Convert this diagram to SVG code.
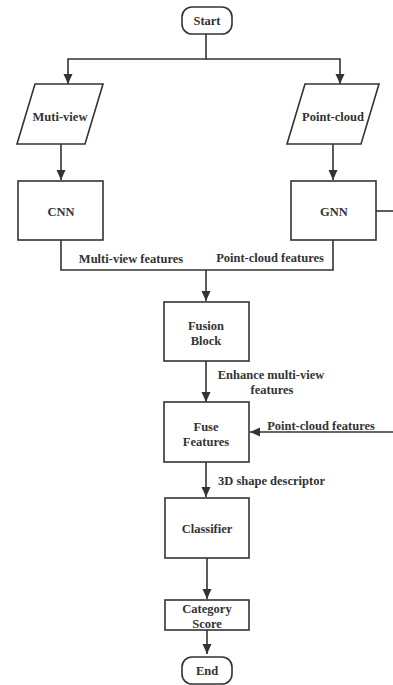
<svg xmlns="http://www.w3.org/2000/svg" width="393" height="685" viewBox="0 0 393 685">
<style>
.n{fill:#fff;stroke:#333;stroke-width:1.6}
.c{fill:none;stroke:#333;stroke-width:1.6}
text{font-family:"Liberation Serif","DejaVu Serif",serif;font-weight:bold;font-size:12.5px;fill:#333;text-anchor:middle}
.l{text-anchor:start}
</style>
<defs>
<marker id="a" viewBox="0 0 10 10" refX="10" refY="5" markerWidth="10" markerHeight="10" markerUnits="userSpaceOnUse" orient="auto">
<path d="M0,0.5 L10,5 L0,9.5 Z" fill="#333"/>
</marker>
</defs>
<rect width="393" height="685" fill="#fff"/>
<g id="connectors">
<path class="c" d="M206,34 V59 H68 V84" marker-end="url(#a)"/>
<path class="c" d="M206,59 H340 V84" marker-end="url(#a)"/>
<path class="c" d="M61,144 V180" marker-end="url(#a)"/>
<path class="c" d="M333,144 V180" marker-end="url(#a)"/>
<path class="c" d="M376,211 H393"/>
<path class="c" d="M61,240 V270 H333 V240"/>
<path class="c" d="M206,270 V301" marker-end="url(#a)"/>
<path class="c" d="M206,361 V402" marker-end="url(#a)"/>
<path class="c" d="M393,432 H250" marker-end="url(#a)"/>
<path class="c" d="M206,462 V497" marker-end="url(#a)"/>
<path class="c" d="M207,558 V599" marker-end="url(#a)"/>
<path class="c" d="M207,630 V654" marker-end="url(#a)"/>
<text x="131" y="263">Multi-view features</text>
<text x="270" y="262">Point-cloud features</text>
<text x="271" y="378.5">Enhance multi-view</text>
<text x="272" y="393.5">features</text>
<text x="321" y="429.5">Point-cloud features</text>
<text class="l" x="218" y="484.5">3D shape descriptor</text>
</g>
<g id="start"><rect class="n" x="182" y="7" width="50" height="27" rx="10"/><text x="207" y="25">Start</text></g>
<g id="multiview"><path class="n" d="M35,84 H103 L85,144 H17 Z"/><text x="60" y="120.5">Muti-view</text></g>
<g id="pointcloud"><path class="n" d="M305,84 H379 L361,144 H287 Z"/><text x="333" y="120.5">Point-cloud</text></g>
<g id="cnn"><rect class="n" x="18" y="181" width="85" height="59"/><text x="61" y="216">CNN</text></g>
<g id="gnn"><rect class="n" x="291" y="181" width="85" height="59"/><text x="334" y="216">GNN</text></g>
<g id="fusion"><rect class="n" x="164" y="302" width="85" height="59"/><text x="206" y="329.5">Fusion</text><text x="206" y="344.5">Block</text></g>
<g id="fuse"><rect class="n" x="164" y="402" width="85" height="60"/><text x="206" y="430.5">Fuse</text><text x="206" y="445.5">Features</text></g>
<g id="classifier"><rect class="n" x="165" y="498" width="84" height="60"/><text x="207" y="533">Classifier</text></g>
<g id="score"><rect class="n" x="165" y="600" width="84" height="30"/><text x="207" y="612.5">Category</text><text x="207" y="627.5">Score</text></g>
<g id="end"><rect class="n" x="182" y="657" width="50" height="27" rx="10"/><text x="207" y="675">End</text></g>
</svg>
